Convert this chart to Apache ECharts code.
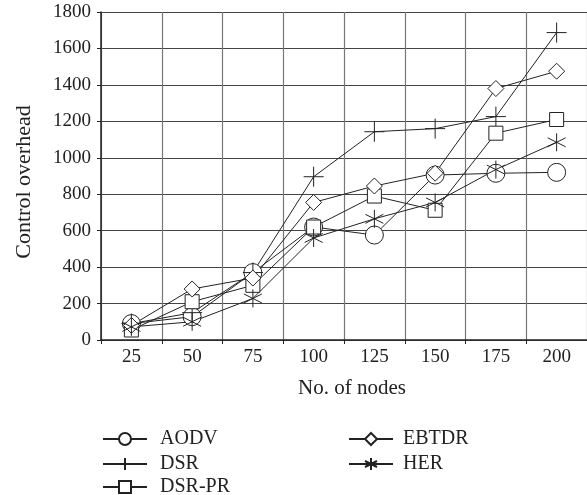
<!DOCTYPE html>
<html lang="en">
<head>
  <meta charset="UTF-8">
  <title>Control overhead</title>
  <script src="https://cdn.jsdelivr.net/npm/echarts@6/dist/echarts.min.js"></script>
  <style>
    html, body { margin: 0; padding: 0; background: #fff; }
  </style>
</head>
<body>
<div id="main" style="width:587px;height:495px;"></div>
<script>
  // 节点数
  const nodes = ['25', '50', '75', '100', '125', '150', '175', '200'];
  // 各协议的控制开销
  const aodv = [90, 128, 370, 620, 576, 905, 915, 920];
  const dsr = [90, 150, 370, 896, 1143, 1160, 1226, 1687];
  const dsrPr = [55, 210, 300, 620, 790, 712, 1135, 1210];
  const ebtdr = [80, 280, 340, 755, 845, 915, 1380, 1475];
  const her = [72, 100, 228, 560, 665, 755, 935, 1085];
  const yTicks = [0, 1800, 200];

  const font = 'Liberation Serif';
  const ink = '#222';
  const fs = 19;
  const plusPath = 'path://M10,0L10,20M0,10L20,10';
  const starPath = 'path://M10,0L10,20M1.3,5L18.7,15M1.3,15L18.7,5';

  function line(name, data, symbol, size) {
    return {
      name: name,
      type: 'line',
      data: data,
      symbol: symbol,
      symbolSize: size,
      showAllSymbol: true,
      lineStyle: { color: ink, width: 1 },
      itemStyle: { color: '#fff', borderColor: ink, borderWidth: 1 },
      emphasis: { disabled: true }
    };
  }

  // 图例：每项单独放置
  function legendItem(name, left, top, gap) {
    return {
      data: [name],
      left: left, top: top,
      itemWidth: 44, itemHeight: 15,
      textStyle: { fontFamily: font, fontSize: 20, color: ink, padding: [0, 0, 0, gap] }
    };
  }

  const chart = echarts.init(document.getElementById('main'));
  chart.setOption({
    animation: false,
    textStyle: { fontFamily: font, color: ink },
    grid: { left: 101, right: -2, top: 12, bottom: 155 },
    legend: [
      legendItem('AODV', 97, 424, 8),
      legendItem('DSR', 97, 449, 8),
      legendItem('DSR-PR', 97, 472, 8),
      legendItem('EBTDR', 343, 424, 5),
      legendItem('HER', 343, 449, 5)
    ],
    xAxis: {
      type: 'category',
      data: nodes,
      boundaryGap: true,
      name: 'No. of nodes',
      nameLocation: 'middle',
      nameGap: 38,
      nameTextStyle: { fontFamily: font, fontSize: 21, color: ink, padding: [0, 0, 0, 16] },
      axisLine: { lineStyle: { color: ink, width: 1.5 } },
      axisTick: { show: true, length: 4, lineStyle: { color: ink } },
      axisLabel: { fontFamily: font, fontSize: fs, color: ink, margin: 8 },
      splitLine: { show: true, lineStyle: { color: '#777', width: 1.2 } }
    },
    yAxis: {
      type: 'value',
      min: yTicks[0],
      max: yTicks[1],
      interval: yTicks[2],
      name: 'Control overhead',
      nameLocation: 'middle',
      nameGap: 66,
      nameTextStyle: { fontFamily: font, fontSize: 22, color: ink, padding: [0, 12, 0, 0] },
      axisLine: { show: true, lineStyle: { color: ink, width: 1.5 } },
      axisTick: { show: true, length: 4, lineStyle: { color: ink } },
      axisLabel: {
        fontFamily: font, fontSize: fs, color: ink, margin: 10,
        formatter: (v) => String(v)
      },
      splitLine: { show: true, lineStyle: { color: '#444', width: 1.2 } }
    },
    series: [
      line('AODV', aodv, 'circle', 18),
      line('DSR', dsr, plusPath, 20),
      line('DSR-PR', dsrPr, 'rect', 14),
      line('EBTDR', ebtdr, 'diamond', 16),
      line('HER', her, starPath, 18)
    ]
  });
</script>
</body>
</html>
